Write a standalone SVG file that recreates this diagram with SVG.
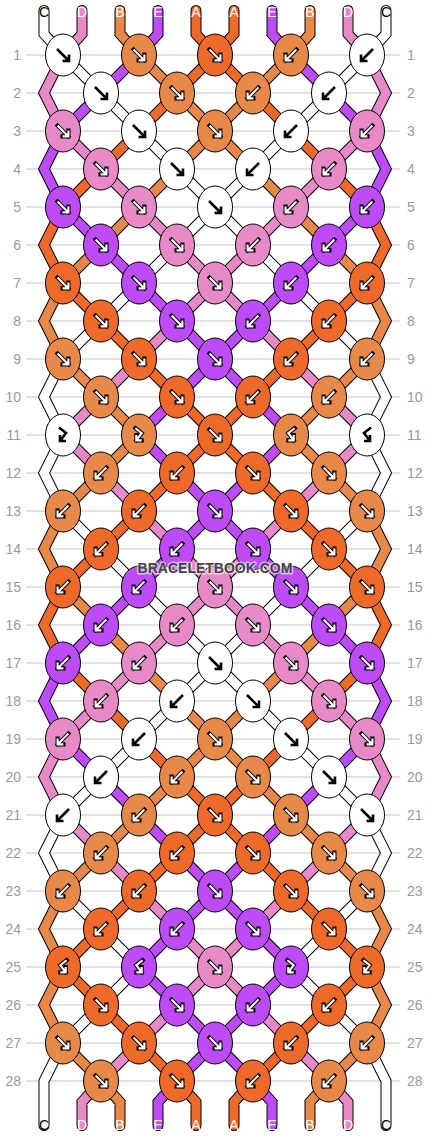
<svg xmlns="http://www.w3.org/2000/svg" width="430" height="1136" viewBox="0 0 430 1136">
<style>
.o{fill:none;stroke:#000;stroke-width:11;stroke-linecap:round;stroke-linejoin:miter}
.s{fill:none;stroke-width:9;stroke-linecap:round;stroke-linejoin:miter}
.sA{stroke:#EF6A2A}.sB{stroke:#E8894A}.sC{stroke:#fff}.sD{stroke:#E98AC8}.sE{stroke:#BD4BF7}
.kA,.kB,.kC,.kD,.kE{stroke:#000;stroke-width:1}
.kA{fill:#EF6A2A}.kB{fill:#E8894A}.kC{fill:#fff}.kD{fill:#E98AC8}.kE{fill:#BD4BF7}
.ab{fill:none;stroke:#000;stroke-width:2.6}
.ao{fill:none;stroke:#000;stroke-width:4.6;stroke-linecap:square}
.aw{fill:none;stroke:#fff;stroke-width:2.4}
.grid{fill:none;stroke:#c3c3c3;stroke-width:1}
.rl{font-family:"Liberation Sans",Arial,sans-serif;font-size:14px;fill:#999}
.rr{text-anchor:end}
.sl{font-family:"Liberation Sans",Arial,sans-serif;font-size:14px;text-anchor:middle;fill:#fff}
.slk{fill:#000}
.wm{font-family:"Liberation Sans",Arial,sans-serif;font-weight:bold;font-size:14px;text-anchor:middle;fill:#444;stroke:#fff;stroke-opacity:.6;stroke-width:3;paint-order:stroke;stroke-linejoin:round}
</style>
<defs>
<ellipse id="e" rx="17.5" ry="21"/>
<path id="pF" d="M-6,-6L6,6M-0.5,6H6V-0.5"/>
<path id="pB" d="M6,-6L-6,6M0.5,6H-6V-0.5"/>
<path id="pFB" d="M-4,-7.5L3,-2L-3,6M3,6H-3V0"/>
<path id="pBF" d="M4,-7.5L-3,-2L3,6M-3,6H3V0"/>
<g id="bF"><use href="#pF" class="ab"/></g>
<g id="bB"><use href="#pB" class="ab"/></g>
<g id="bFB"><use href="#pFB" class="ab"/></g>
<g id="bBF"><use href="#pBF" class="ab"/></g>
<g id="wF" transform="scale(.9)"><use href="#pF" class="ao"/><use href="#pF" class="aw"/></g>
<g id="wB" transform="scale(.9)"><use href="#pB" class="ao"/><use href="#pB" class="aw"/></g>
<g id="wFB" transform="scale(.9)"><use href="#pFB" class="ao"/><use href="#pFB" class="aw"/></g>
<g id="wBF" transform="scale(.9)"><use href="#pBF" class="ao"/><use href="#pBF" class="aw"/></g>
<path id="hA" d="M215,55l-38,38M177,93l-38,38M139,131l-38,38M101,169l-38,38M63,283l38,38M101,321l38,38M139,359l38,38M177,397l38,38M215,435l-38,38M177,473l-38,38M139,511l-38,38M101,549l-38,38M63,663l38,38M101,701l38,38M139,739l38,38M177,777l38,38M215,815l-38,38M177,853l-38,38M139,891l-38,38M101,929l-38,38M63,967l38,38M101,1005l38,38M139,1043l38,38M63,207L44,245L63,283M63,587L44,625L63,663M196,10.5V34L215,55M177,1081L196,1102V1125.5"/>
<path id="hB" d="M139,55l38,38M177,93l38,38M215,131l-38,38M177,169l-38,38M139,207l-38,38M101,245l-38,38M63,359l38,38M101,397l38,38M139,435l-38,38M101,473l-38,38M63,587l38,38M101,625l38,38M139,663l38,38M177,701l38,38M215,739l-38,38M177,777l-38,38M139,815l-38,38M101,853l-38,38M63,1043l38,38M63,283L44,321L63,359M63,511L44,549L63,587M63,891L44,929L63,967L44,1005L63,1043M120,10.5V34L139,55M101,1081L120,1102V1125.5"/>
<path id="hC" d="M63,55l38,38M101,93l38,38M139,131l38,38M177,169l38,38M215,207l-38,38M177,245l-38,38M139,283l-38,38M101,321l-38,38M63,511l38,38M101,549l38,38M139,587l38,38M177,625l38,38M215,663l-38,38M177,701l-38,38M139,739l-38,38M101,777l-38,38M63,891l38,38M101,929l38,38M139,967l-38,38M101,1005l-38,38M63,359L44,397L63,435L44,473L63,511M63,815L44,853L63,891M63,1043L44,1081V1125.5M44,10.5V34L63,55"/>
<path id="hD" d="M63,131l38,38M101,169l38,38M139,207l38,38M177,245l38,38M215,283l-38,38M177,321l-38,38M139,359l-38,38M101,397l-38,38M63,435l38,38M101,473l38,38M139,511l38,38M177,549l38,38M215,587l-38,38M177,625l-38,38M139,663l-38,38M101,701l-38,38M63,815l38,38M101,853l38,38M139,891l38,38M177,929l38,38M215,967l-38,38M177,1005l-38,38M139,1043l-38,38M63,55L44,93L63,131M63,739L44,777L63,815M82,10.5V34L63,55M101,1081L82,1102V1125.5"/>
<path id="hE" d="M139,55l-38,38M101,93l-38,38M63,207l38,38M101,245l38,38M139,283l38,38M177,321l38,38M215,359l-38,38M177,397l-38,38M139,435l38,38M177,473l38,38M215,511l-38,38M177,549l-38,38M139,587l-38,38M101,625l-38,38M63,739l38,38M101,777l38,38M139,815l38,38M177,853l38,38M215,891l-38,38M177,929l-38,38M139,967l38,38M177,1005l38,38M215,1043l-38,38M63,131L44,169L63,207M63,663L44,701L63,739M158,10.5V34L139,55M177,1081L158,1102V1125.5"/>
</defs>
<rect width="430" height="1136" fill="#fff"/>
<g id="rows">
<path class="grid" d="M26,55H400M26,93H400M26,131H400M26,169H400M26,207H400M26,245H400M26,283H400M26,321H400M26,359H400M26,397H400M26,435H400M26,473H400M26,511H400M26,549H400M26,587H400M26,625H400M26,663H400M26,701H400M26,739H400M26,777H400M26,815H400M26,853H400M26,891H400M26,929H400M26,967H400M26,1005H400M26,1043H400M26,1081H400"/>
<g class="rl rr">
<text x="21" y="60">1</text><text x="21" y="98">2</text><text x="21" y="136">3</text><text x="21" y="174">4</text><text x="21" y="212">5</text><text x="21" y="250">6</text><text x="21" y="288">7</text><text x="21" y="326">8</text><text x="21" y="364">9</text><text x="21" y="402">10</text><text x="21" y="440">11</text><text x="21" y="478">12</text><text x="21" y="516">13</text><text x="21" y="554">14</text><text x="21" y="592">15</text><text x="21" y="630">16</text><text x="21" y="668">17</text><text x="21" y="706">18</text><text x="21" y="744">19</text><text x="21" y="782">20</text><text x="21" y="820">21</text><text x="21" y="858">22</text><text x="21" y="896">23</text><text x="21" y="934">24</text><text x="21" y="972">25</text><text x="21" y="1010">26</text><text x="21" y="1048">27</text><text x="21" y="1086">28</text>
</g>
<g class="rl">
<text x="407" y="60">1</text><text x="407" y="98">2</text><text x="407" y="136">3</text><text x="407" y="174">4</text><text x="407" y="212">5</text><text x="407" y="250">6</text><text x="407" y="288">7</text><text x="407" y="326">8</text><text x="407" y="364">9</text><text x="407" y="402">10</text><text x="407" y="440">11</text><text x="407" y="478">12</text><text x="407" y="516">13</text><text x="407" y="554">14</text><text x="407" y="592">15</text><text x="407" y="630">16</text><text x="407" y="668">17</text><text x="407" y="706">18</text><text x="407" y="744">19</text><text x="407" y="782">20</text><text x="407" y="820">21</text><text x="407" y="858">22</text><text x="407" y="896">23</text><text x="407" y="934">24</text><text x="407" y="972">25</text><text x="407" y="1010">26</text><text x="407" y="1048">27</text><text x="407" y="1086">28</text>
</g>
</g>
<g id="connectors">
<g id="outl" class="o"><use href="#hA"/><use href="#hB"/><use href="#hC"/><use href="#hD"/><use href="#hE"/></g>
<use href="#outl" transform="matrix(-1 0 0 1 430 0)"/>
<g id="fills" class="s"><use href="#hA" class="sA"/><use href="#hB" class="sB"/><use href="#hC" class="sC"/><use href="#hD" class="sD"/><use href="#hE" class="sE"/></g>
<use href="#fills" transform="matrix(-1 0 0 1 430 0)"/>
</g>
<g id="labels">
<text class="sl slk" x="44" y="17">C</text><text class="sl" x="82" y="17">D</text><text class="sl" x="120" y="17">B</text><text class="sl" x="158" y="17">E</text><text class="sl" x="196" y="17">A</text><text class="sl" x="234" y="17">A</text><text class="sl" x="272" y="17">E</text><text class="sl" x="310" y="17">B</text><text class="sl" x="348" y="17">D</text><text class="sl slk" x="386" y="17">C</text>
<text class="sl slk" x="44" y="1130">C</text><text class="sl" x="82" y="1130">D</text><text class="sl" x="120" y="1130">B</text><text class="sl" x="158" y="1130">E</text><text class="sl" x="196" y="1130">A</text><text class="sl" x="234" y="1130">A</text><text class="sl" x="272" y="1130">E</text><text class="sl" x="310" y="1130">B</text><text class="sl" x="348" y="1130">D</text><text class="sl slk" x="386" y="1130">C</text>
</g>
<g id="knots">
<g id="k1_1" transform="translate(63 55)"><use href="#e" class="kC"/><use href="#bF"/></g>
<g id="k1_2" transform="translate(139 55)"><use href="#e" class="kB"/><use href="#wF"/></g>
<g id="k1_3" transform="translate(215 55)"><use href="#e" class="kA"/><use href="#wF"/></g>
<g id="k1_4" transform="translate(291 55)"><use href="#e" class="kB"/><use href="#wB"/></g>
<g id="k1_5" transform="translate(367 55)"><use href="#e" class="kC"/><use href="#bB"/></g>
<g id="k2_1" transform="translate(101 93)"><use href="#e" class="kC"/><use href="#bF"/></g>
<g id="k2_2" transform="translate(177 93)"><use href="#e" class="kB"/><use href="#wF"/></g>
<g id="k2_3" transform="translate(253 93)"><use href="#e" class="kB"/><use href="#wB"/></g>
<g id="k2_4" transform="translate(329 93)"><use href="#e" class="kC"/><use href="#bB"/></g>
<g id="k3_1" transform="translate(63 131)"><use href="#e" class="kD"/><use href="#wF"/></g>
<g id="k3_2" transform="translate(139 131)"><use href="#e" class="kC"/><use href="#bF"/></g>
<g id="k3_3" transform="translate(215 131)"><use href="#e" class="kB"/><use href="#wF"/></g>
<g id="k3_4" transform="translate(291 131)"><use href="#e" class="kC"/><use href="#bB"/></g>
<g id="k3_5" transform="translate(367 131)"><use href="#e" class="kD"/><use href="#wB"/></g>
<g id="k4_1" transform="translate(101 169)"><use href="#e" class="kD"/><use href="#wF"/></g>
<g id="k4_2" transform="translate(177 169)"><use href="#e" class="kC"/><use href="#bF"/></g>
<g id="k4_3" transform="translate(253 169)"><use href="#e" class="kC"/><use href="#bB"/></g>
<g id="k4_4" transform="translate(329 169)"><use href="#e" class="kD"/><use href="#wB"/></g>
<g id="k5_1" transform="translate(63 207)"><use href="#e" class="kE"/><use href="#wF"/></g>
<g id="k5_2" transform="translate(139 207)"><use href="#e" class="kD"/><use href="#wF"/></g>
<g id="k5_3" transform="translate(215 207)"><use href="#e" class="kC"/><use href="#bF"/></g>
<g id="k5_4" transform="translate(291 207)"><use href="#e" class="kD"/><use href="#wB"/></g>
<g id="k5_5" transform="translate(367 207)"><use href="#e" class="kE"/><use href="#wB"/></g>
<g id="k6_1" transform="translate(101 245)"><use href="#e" class="kE"/><use href="#wF"/></g>
<g id="k6_2" transform="translate(177 245)"><use href="#e" class="kD"/><use href="#wF"/></g>
<g id="k6_3" transform="translate(253 245)"><use href="#e" class="kD"/><use href="#wB"/></g>
<g id="k6_4" transform="translate(329 245)"><use href="#e" class="kE"/><use href="#wB"/></g>
<g id="k7_1" transform="translate(63 283)"><use href="#e" class="kA"/><use href="#wF"/></g>
<g id="k7_2" transform="translate(139 283)"><use href="#e" class="kE"/><use href="#wF"/></g>
<g id="k7_3" transform="translate(215 283)"><use href="#e" class="kD"/><use href="#wF"/></g>
<g id="k7_4" transform="translate(291 283)"><use href="#e" class="kE"/><use href="#wB"/></g>
<g id="k7_5" transform="translate(367 283)"><use href="#e" class="kA"/><use href="#wB"/></g>
<g id="k8_1" transform="translate(101 321)"><use href="#e" class="kA"/><use href="#wF"/></g>
<g id="k8_2" transform="translate(177 321)"><use href="#e" class="kE"/><use href="#wF"/></g>
<g id="k8_3" transform="translate(253 321)"><use href="#e" class="kE"/><use href="#wB"/></g>
<g id="k8_4" transform="translate(329 321)"><use href="#e" class="kA"/><use href="#wB"/></g>
<g id="k9_1" transform="translate(63 359)"><use href="#e" class="kB"/><use href="#wF"/></g>
<g id="k9_2" transform="translate(139 359)"><use href="#e" class="kA"/><use href="#wF"/></g>
<g id="k9_3" transform="translate(215 359)"><use href="#e" class="kE"/><use href="#wF"/></g>
<g id="k9_4" transform="translate(291 359)"><use href="#e" class="kA"/><use href="#wB"/></g>
<g id="k9_5" transform="translate(367 359)"><use href="#e" class="kB"/><use href="#wB"/></g>
<g id="k10_1" transform="translate(101 397)"><use href="#e" class="kB"/><use href="#wF"/></g>
<g id="k10_2" transform="translate(177 397)"><use href="#e" class="kA"/><use href="#wF"/></g>
<g id="k10_3" transform="translate(253 397)"><use href="#e" class="kA"/><use href="#wB"/></g>
<g id="k10_4" transform="translate(329 397)"><use href="#e" class="kB"/><use href="#wB"/></g>
<g id="k11_1" transform="translate(63 435)"><use href="#e" class="kC"/><use href="#bFB"/></g>
<g id="k11_2" transform="translate(139 435)"><use href="#e" class="kB"/><use href="#wFB"/></g>
<g id="k11_3" transform="translate(215 435)"><use href="#e" class="kA"/><use href="#wF"/></g>
<g id="k11_4" transform="translate(291 435)"><use href="#e" class="kB"/><use href="#wBF"/></g>
<g id="k11_5" transform="translate(367 435)"><use href="#e" class="kC"/><use href="#bBF"/></g>
<g id="k12_1" transform="translate(101 473)"><use href="#e" class="kB"/><use href="#wB"/></g>
<g id="k12_2" transform="translate(177 473)"><use href="#e" class="kA"/><use href="#wB"/></g>
<g id="k12_3" transform="translate(253 473)"><use href="#e" class="kA"/><use href="#wF"/></g>
<g id="k12_4" transform="translate(329 473)"><use href="#e" class="kB"/><use href="#wF"/></g>
<g id="k13_1" transform="translate(63 511)"><use href="#e" class="kB"/><use href="#wB"/></g>
<g id="k13_2" transform="translate(139 511)"><use href="#e" class="kA"/><use href="#wB"/></g>
<g id="k13_3" transform="translate(215 511)"><use href="#e" class="kE"/><use href="#wF"/></g>
<g id="k13_4" transform="translate(291 511)"><use href="#e" class="kA"/><use href="#wF"/></g>
<g id="k13_5" transform="translate(367 511)"><use href="#e" class="kB"/><use href="#wF"/></g>
<g id="k14_1" transform="translate(101 549)"><use href="#e" class="kA"/><use href="#wB"/></g>
<g id="k14_2" transform="translate(177 549)"><use href="#e" class="kE"/><use href="#wB"/></g>
<g id="k14_3" transform="translate(253 549)"><use href="#e" class="kE"/><use href="#wF"/></g>
<g id="k14_4" transform="translate(329 549)"><use href="#e" class="kA"/><use href="#wF"/></g>
<g id="k15_1" transform="translate(63 587)"><use href="#e" class="kA"/><use href="#wB"/></g>
<g id="k15_2" transform="translate(139 587)"><use href="#e" class="kE"/><use href="#wB"/></g>
<g id="k15_3" transform="translate(215 587)"><use href="#e" class="kD"/><use href="#wF"/></g>
<g id="k15_4" transform="translate(291 587)"><use href="#e" class="kE"/><use href="#wF"/></g>
<g id="k15_5" transform="translate(367 587)"><use href="#e" class="kA"/><use href="#wF"/></g>
<g id="k16_1" transform="translate(101 625)"><use href="#e" class="kE"/><use href="#wB"/></g>
<g id="k16_2" transform="translate(177 625)"><use href="#e" class="kD"/><use href="#wB"/></g>
<g id="k16_3" transform="translate(253 625)"><use href="#e" class="kD"/><use href="#wF"/></g>
<g id="k16_4" transform="translate(329 625)"><use href="#e" class="kE"/><use href="#wF"/></g>
<g id="k17_1" transform="translate(63 663)"><use href="#e" class="kE"/><use href="#wB"/></g>
<g id="k17_2" transform="translate(139 663)"><use href="#e" class="kD"/><use href="#wB"/></g>
<g id="k17_3" transform="translate(215 663)"><use href="#e" class="kC"/><use href="#bF"/></g>
<g id="k17_4" transform="translate(291 663)"><use href="#e" class="kD"/><use href="#wF"/></g>
<g id="k17_5" transform="translate(367 663)"><use href="#e" class="kE"/><use href="#wF"/></g>
<g id="k18_1" transform="translate(101 701)"><use href="#e" class="kD"/><use href="#wB"/></g>
<g id="k18_2" transform="translate(177 701)"><use href="#e" class="kC"/><use href="#bB"/></g>
<g id="k18_3" transform="translate(253 701)"><use href="#e" class="kC"/><use href="#bF"/></g>
<g id="k18_4" transform="translate(329 701)"><use href="#e" class="kD"/><use href="#wF"/></g>
<g id="k19_1" transform="translate(63 739)"><use href="#e" class="kD"/><use href="#wB"/></g>
<g id="k19_2" transform="translate(139 739)"><use href="#e" class="kC"/><use href="#bB"/></g>
<g id="k19_3" transform="translate(215 739)"><use href="#e" class="kB"/><use href="#wF"/></g>
<g id="k19_4" transform="translate(291 739)"><use href="#e" class="kC"/><use href="#bF"/></g>
<g id="k19_5" transform="translate(367 739)"><use href="#e" class="kD"/><use href="#wF"/></g>
<g id="k20_1" transform="translate(101 777)"><use href="#e" class="kC"/><use href="#bB"/></g>
<g id="k20_2" transform="translate(177 777)"><use href="#e" class="kB"/><use href="#wB"/></g>
<g id="k20_3" transform="translate(253 777)"><use href="#e" class="kB"/><use href="#wF"/></g>
<g id="k20_4" transform="translate(329 777)"><use href="#e" class="kC"/><use href="#bF"/></g>
<g id="k21_1" transform="translate(63 815)"><use href="#e" class="kC"/><use href="#bB"/></g>
<g id="k21_2" transform="translate(139 815)"><use href="#e" class="kB"/><use href="#wB"/></g>
<g id="k21_3" transform="translate(215 815)"><use href="#e" class="kA"/><use href="#wF"/></g>
<g id="k21_4" transform="translate(291 815)"><use href="#e" class="kB"/><use href="#wF"/></g>
<g id="k21_5" transform="translate(367 815)"><use href="#e" class="kC"/><use href="#bF"/></g>
<g id="k22_1" transform="translate(101 853)"><use href="#e" class="kB"/><use href="#wB"/></g>
<g id="k22_2" transform="translate(177 853)"><use href="#e" class="kA"/><use href="#wB"/></g>
<g id="k22_3" transform="translate(253 853)"><use href="#e" class="kA"/><use href="#wF"/></g>
<g id="k22_4" transform="translate(329 853)"><use href="#e" class="kB"/><use href="#wF"/></g>
<g id="k23_1" transform="translate(63 891)"><use href="#e" class="kB"/><use href="#wB"/></g>
<g id="k23_2" transform="translate(139 891)"><use href="#e" class="kA"/><use href="#wB"/></g>
<g id="k23_3" transform="translate(215 891)"><use href="#e" class="kE"/><use href="#wF"/></g>
<g id="k23_4" transform="translate(291 891)"><use href="#e" class="kA"/><use href="#wF"/></g>
<g id="k23_5" transform="translate(367 891)"><use href="#e" class="kB"/><use href="#wF"/></g>
<g id="k24_1" transform="translate(101 929)"><use href="#e" class="kA"/><use href="#wB"/></g>
<g id="k24_2" transform="translate(177 929)"><use href="#e" class="kE"/><use href="#wB"/></g>
<g id="k24_3" transform="translate(253 929)"><use href="#e" class="kE"/><use href="#wF"/></g>
<g id="k24_4" transform="translate(329 929)"><use href="#e" class="kA"/><use href="#wF"/></g>
<g id="k25_1" transform="translate(63 967)"><use href="#e" class="kA"/><use href="#wBF"/></g>
<g id="k25_2" transform="translate(139 967)"><use href="#e" class="kE"/><use href="#wBF"/></g>
<g id="k25_3" transform="translate(215 967)"><use href="#e" class="kD"/><use href="#wF"/></g>
<g id="k25_4" transform="translate(291 967)"><use href="#e" class="kE"/><use href="#wFB"/></g>
<g id="k25_5" transform="translate(367 967)"><use href="#e" class="kA"/><use href="#wFB"/></g>
<g id="k26_1" transform="translate(101 1005)"><use href="#e" class="kA"/><use href="#wF"/></g>
<g id="k26_2" transform="translate(177 1005)"><use href="#e" class="kE"/><use href="#wF"/></g>
<g id="k26_3" transform="translate(253 1005)"><use href="#e" class="kE"/><use href="#wB"/></g>
<g id="k26_4" transform="translate(329 1005)"><use href="#e" class="kA"/><use href="#wB"/></g>
<g id="k27_1" transform="translate(63 1043)"><use href="#e" class="kB"/><use href="#wF"/></g>
<g id="k27_2" transform="translate(139 1043)"><use href="#e" class="kA"/><use href="#wF"/></g>
<g id="k27_3" transform="translate(215 1043)"><use href="#e" class="kE"/><use href="#wF"/></g>
<g id="k27_4" transform="translate(291 1043)"><use href="#e" class="kA"/><use href="#wB"/></g>
<g id="k27_5" transform="translate(367 1043)"><use href="#e" class="kB"/><use href="#wB"/></g>
<g id="k28_1" transform="translate(101 1081)"><use href="#e" class="kB"/><use href="#wF"/></g>
<g id="k28_2" transform="translate(177 1081)"><use href="#e" class="kA"/><use href="#wF"/></g>
<g id="k28_3" transform="translate(253 1081)"><use href="#e" class="kA"/><use href="#wB"/></g>
<g id="k28_4" transform="translate(329 1081)"><use href="#e" class="kB"/><use href="#wB"/></g>
</g>
<text id="watermark" class="wm" x="215" y="573">BRACELETBOOK.COM</text>
</svg>
